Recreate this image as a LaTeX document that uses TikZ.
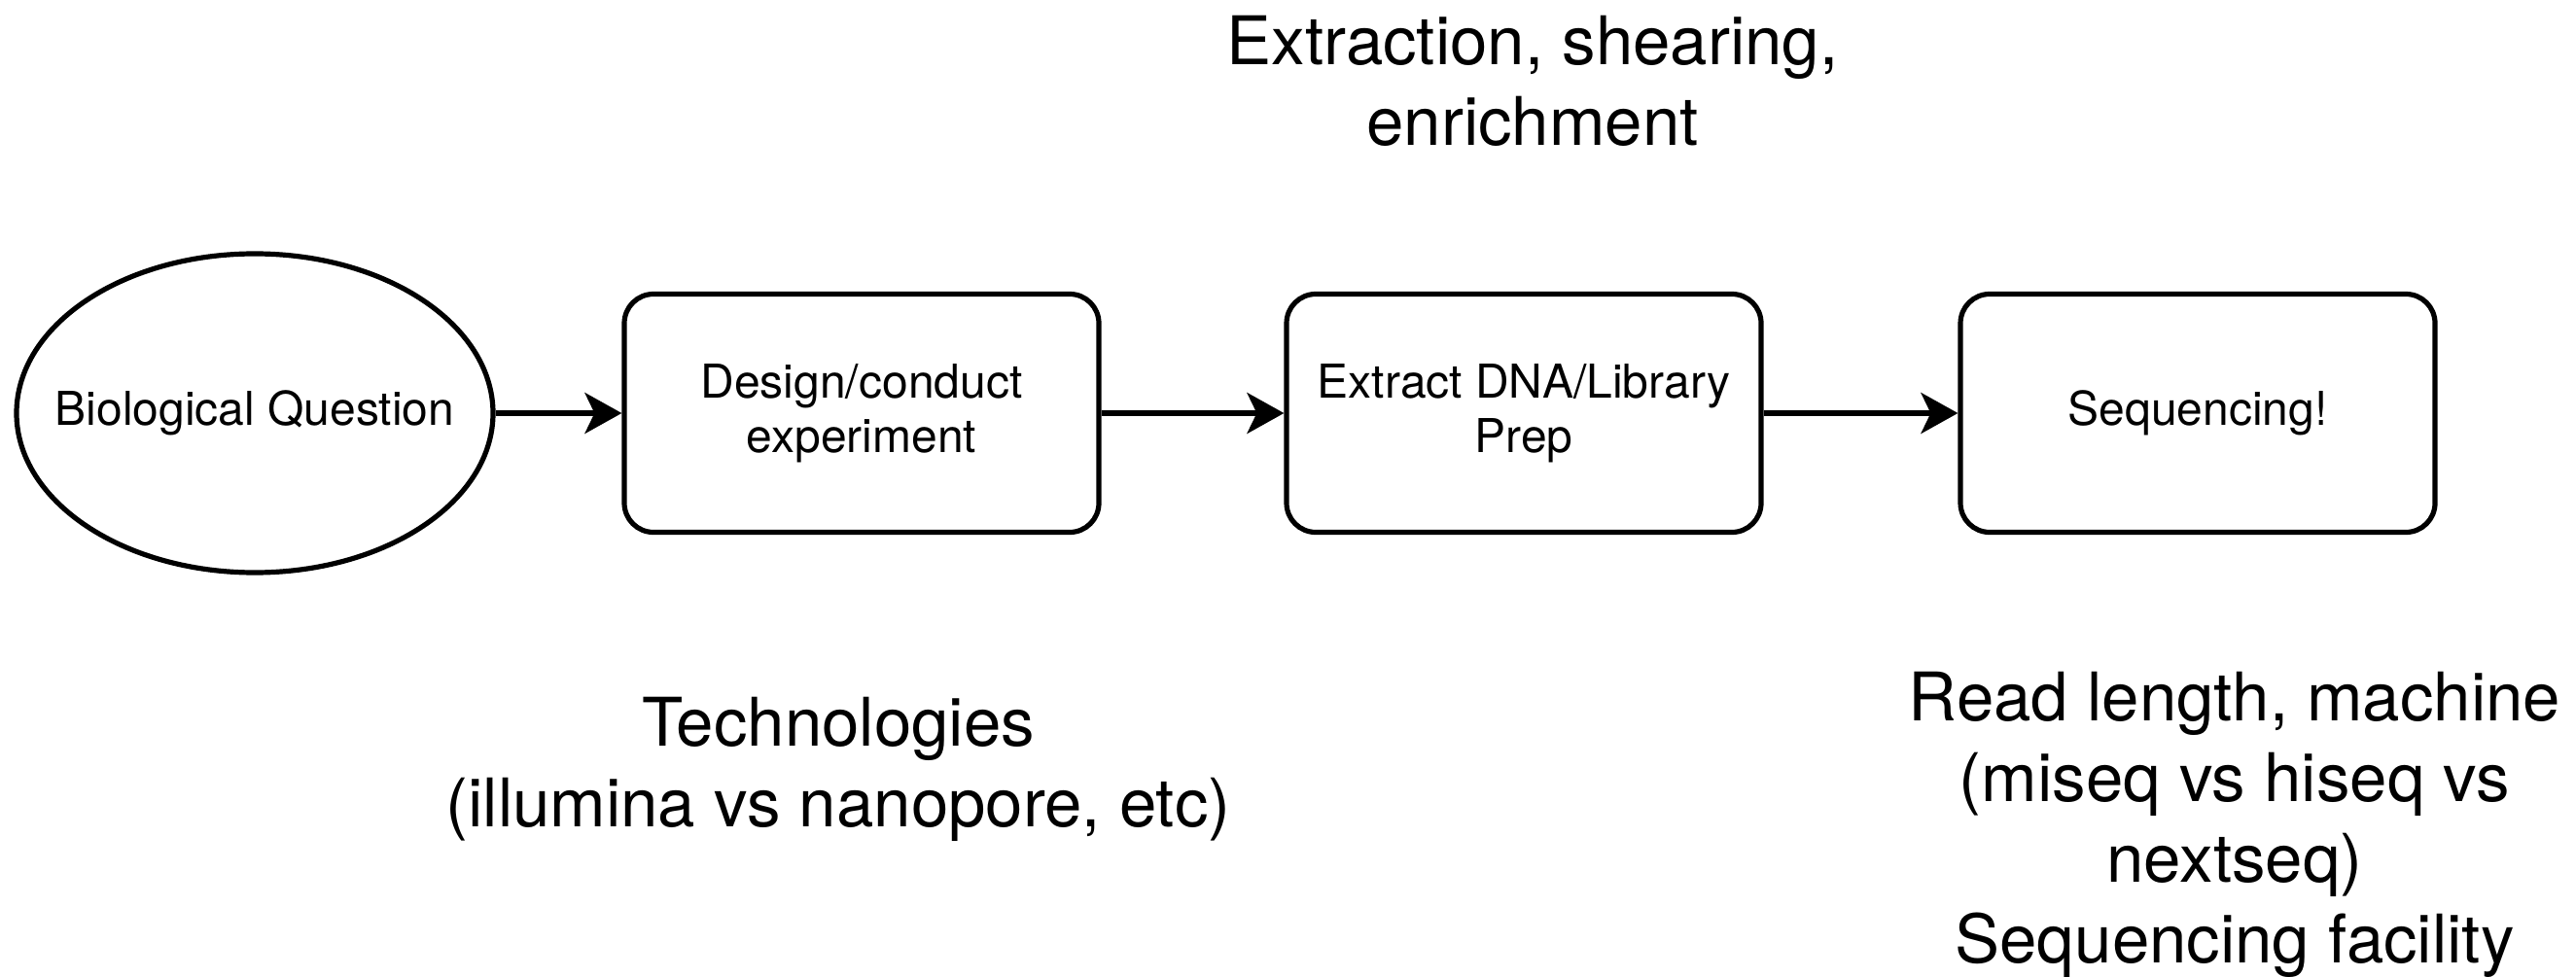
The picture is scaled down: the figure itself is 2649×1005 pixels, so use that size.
\documentclass[tikz,border=0pt]{standalone}
\usepackage{fontspec}
\setmainfont{TeX Gyre Heros}
\usetikzlibrary{arrows.meta,shapes.geometric}
\begin{document}
\begin{tikzpicture}[x=0.5pt,y=-0.5pt,
  boxstyle/.style={draw,line width=2.6pt,rounded corners=15pt,minimum width=244pt,minimum height=122.5pt,align=center,inner sep=0pt,font=\fontsize{24pt}{28pt}\selectfont},
  ellstyle/.style={draw,ellipse,line width=2.6pt,minimum width=245pt,minimum height=164pt,inner sep=0pt,font=\fontsize{24pt}{28pt}\selectfont},
  bigtext/.style={align=center,inner sep=0pt,font=\fontsize{34.5pt}{41.5pt}\selectfont},
  arrowstyle/.style={line width=2.6pt,-{Stealth[length=19pt,width=21pt,inset=5pt]}}]
\useasboundingbox (0,0) rectangle (2649,1005);
\node[ellstyle] (q) at (262,425) {\makebox[0pt]{Biological Question}};
\node[boxstyle] (b1) at (886,425) {Design/conduct\\experiment};
\node[boxstyle] (b2) at (1567,425) {Extract DNA/Library\\Prep};
\node[boxstyle] (b3) at (2260,425) {Sequencing!};
\draw[arrowstyle] (q.east) -- (b1.west);
\draw[arrowstyle] (b1.east) -- (b2.west);
\draw[arrowstyle] (b2.east) -- (b3.west);
\node[bigtext] (t1) at (1576,83) {Extraction, shearing,\\enrichment};
\node[bigtext] (t2) at (862,791) {Technologies\\(illumina vs nanopore, etc)};
\node[bigtext] (t3) at (2298,848) {Read length, machine\\(miseq vs hiseq vs\\nextseq)\\Sequencing facility};
\end{tikzpicture}
\end{document}
